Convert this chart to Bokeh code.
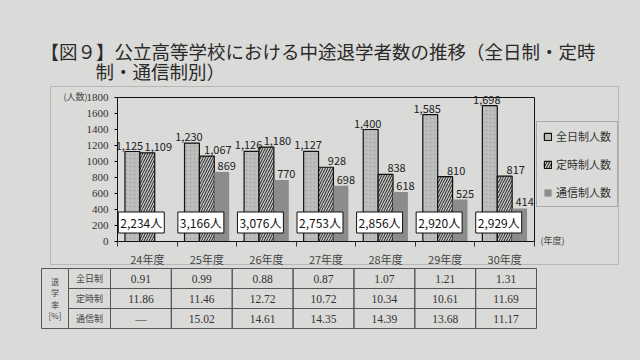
import numpy as np
from bokeh.plotting import figure
from bokeh.models import (Range1d, FixedTicker, Label, LabelSet, ColumnDataSource,
                          Legend, LegendItem, BoxAnnotation, LinearAxis)
from bokeh.embed import file_html
from bokeh.resources import INLINE
from bokeh.core.properties import value

# ---------------- data ----------------
years = ["24年度", "25年度", "26年度", "27年度", "28年度", "29年度", "30年度"]
fulltime = [1125, 1230, 1126, 1127, 1400, 1585, 1698]
parttime = [1109, 1067, 1180, 928, 838, 810, 817]
corresp = [None, 869, 770, 698, 618, 525, 414]
totals = [2234, 3166, 3076, 2753, 2856, 2920, 2929]
series_names = ["全日制人数", "定時制人数", "通信制人数"]
y_ticks = [0, 200, 400, 600, 800, 1000, 1200, 1400, 1600, 1800]

rate_rows = ["全日制", "定時制", "通信制"]
rate_full = [0.91, 0.99, 0.88, 0.87, 1.07, 1.21, 1.31]
rate_part = [11.86, 11.46, 12.72, 10.72, 10.34, 10.61, 11.69]
rate_corr = [None, 15.02, 14.61, 14.35, 14.39, 13.68, 11.17]

title1 = "【図９】公立高等学校における中途退学者数の推移（全日制・定時"
title2 = "制・通信制別）"

BG = "#dadad8"
FONT = "Noto Sans CJK JP"
SERIF = "Liberation Serif"

# ---------------- layout geometry (pixels inside the 624x344 canvas) ----------------
W, H = 624, 344
PL, PR = 109, 526          # plot-area left / right (px from left)
PT, PB = 89, 233           # plot-area top / bottom (px from top)
n = len(years)
ymax = y_ticks[-1]
ux = (PR - PL) / n                      # px per category
uy = ymax / (PB - PT)                   # data per px
x_start = -0.5 - PL / ux
x_end = n - 0.5 + (W - PR) / ux
y_start = -(H - PB) * uy
y_end = ymax + PT * uy

# table geometry
TL, TD, TR = 33, 102, 528    # table left, data-start, right (px)
TT, TB = 260, 320            # table top / bottom (px from top)
colw = (TR - TD) / n
rowh = (TB - TT) / 3
tx_start = -TD / colw
tx_end = n + (W - TR) / colw
ty_start = -(H - TB) / rowh
ty_end = 3 + TT / rowh

p = figure(width=W, height=H, output_backend="svg", toolbar_location=None,
           x_range=Range1d(x_start, x_end), y_range=Range1d(y_start, y_end),
           x_axis_location=None, y_axis_location=None, min_border=0,
           background_fill_color=BG, border_fill_color=BG, outline_line_color=None)
p.extra_x_ranges = {"tx": Range1d(tx_start, tx_end)}
p.extra_y_ranges = {"ty": Range1d(ty_start, ty_end)}
p.xgrid.visible = False
p.ygrid.visible = False

# chart-area border (outer box)
p.add_layout(BoxAnnotation(left=42, right=610, top=H - 78, bottom=H - 256,
                           left_units="screen", right_units="screen",
                           top_units="screen", bottom_units="screen",
                           fill_color=None, line_color="#666", line_width=1))

# plot-area outline
p.quad(left=[-0.5], right=[n - 0.5], bottom=[0], top=[ymax], fill_color=None,
       line_color="#111", line_width=1)

idx = np.arange(n)
corr_vals = [np.nan if v is None else v for v in corresp]

r1 = p.vbar(x=idx - 0.25, top=fulltime, width=0.25, fill_color="#bebebc",
            line_color="#111", line_width=1.2, hatch_pattern="dot",
            hatch_color="#8a8a8a", hatch_scale=4, hatch_alpha=0.45)
r2 = p.vbar(x=idx, top=parttime, width=0.25, fill_color="#c4c4c2",
            line_color="#111", line_width=1.2, hatch_pattern="/",
            hatch_color="#222", hatch_scale=5, hatch_weight=1)
r3 = p.vbar(x=idx + 0.25, top=corr_vals, width=0.25, fill_color="#8c8c8c",
            line_color=None)

def fmt(v):
    return f"{v:,}"

lab_specs = [(idx - 0.25, fulltime, -3), (idx, parttime, 11), (idx + 0.25, corresp, 5)]
for xs, vals, xo in lab_specs:
    xx = [float(x) for x, v in zip(xs, vals) if v is not None]
    yy = [v for v in vals if v is not None]
    tt = [fmt(v) for v in vals if v is not None]
    src = ColumnDataSource(dict(x=xx, y=yy, t=tt))
    p.add_layout(LabelSet(x="x", y="y", text="t", source=src, x_offset=xo, y_offset=2,
                          text_align="center", text_baseline="bottom",
                          text_font=value(FONT), text_font_size="11px",
                          text_color="#222"))

for i, tot in enumerate(totals):
    p.add_layout(Label(x=float(idx[i]), y=0, y_offset=19, x_offset=-6,
                       text=f"{tot:,}人", text_align="center", text_baseline="middle",
                       text_font=FONT, text_font_size="12px", text_color="#111",
                       background_fill_color="white", border_line_color="#111",
                       border_line_width=1, padding=2))

# axes pinned to the plot area
yax = LinearAxis(fixed_location=-0.5, bounds=(0, ymax), ticker=FixedTicker(ticks=y_ticks))
yax.major_tick_out = 3
yax.major_tick_in = 0
yax.minor_tick_line_color = None
yax.axis_line_color = "#111"
yax.major_label_text_font = SERIF
yax.major_label_text_font_size = "11px"
yax.major_label_text_color = "#333"
yax.major_label_standoff = 6
p.add_layout(yax, "left")

xax = LinearAxis(fixed_location=0, bounds=(-0.5, n - 0.5),
                 ticker=FixedTicker(ticks=list(range(n)),
                                    minor_ticks=[i - 0.5 for i in range(n + 1)]))
xax.major_label_overrides = {i: y for i, y in enumerate(years)}
xax.major_tick_line_color = None
xax.minor_tick_out = 5
xax.minor_tick_in = 0
xax.minor_tick_line_color = "#333"
xax.axis_line_color = "#111"
xax.major_label_text_font = FONT
xax.major_label_text_font_size = "11px"
xax.major_label_text_color = "#444"
xax.major_label_standoff = 3
p.add_layout(xax, "below")

# legend
legend = Legend(items=[LegendItem(label=series_names[0], renderers=[r1]),
                       LegendItem(label=series_names[1], renderers=[r2]),
                       LegendItem(label=series_names[2], renderers=[r3])],
                location=(528, H - 199), orientation="vertical")
legend.label_text_font = FONT
legend.label_text_font_size = "11px"
legend.label_text_color = "#333"
legend.glyph_width = 9
legend.glyph_height = 9
legend.label_height = 14
legend.label_standoff = 4
legend.padding = 6
legend.spacing = 12
legend.margin = 0
legend.border_line_color = "#777"
legend.background_fill_color = BG
legend.background_fill_alpha = 1
p.add_layout(legend)

# texts
p.add_layout(Label(x=32, y=H - 42, x_units="screen", y_units="screen", text=title1,
                   text_font=FONT, text_font_size="18.5px", text_color="#2a2a2a",
                   text_baseline="middle"))
p.add_layout(Label(x=87, y=H - 62, x_units="screen", y_units="screen", text=title2,
                   text_font=FONT, text_font_size="18.5px", text_color="#2a2a2a",
                   text_baseline="middle"))
p.add_layout(Label(x=55, y=H - 88, x_units="screen", y_units="screen", text="(人数)",
                   text_font=FONT, text_font_size="9px", text_color="#444",
                   text_baseline="middle"))
p.add_layout(Label(x=532, y=H - 232, x_units="screen", y_units="screen", text="(年度)",
                   text_font=FONT, text_font_size="9px", text_color="#444",
                   text_baseline="middle"))

# ---------------- table ----------------
x0 = -(TD - TL) / colw
x1 = x0 + 27 / colw
rows = [rate_full, rate_part, rate_corr]
L, R, T, B, X, Y, S = [], [], [], [], [], [], []
for r, row in enumerate(rows):
    for c, v in enumerate(row):
        L.append(c); R.append(c + 1); T.append(3 - r); B.append(2 - r)
        X.append(c + 0.5); Y.append(2.5 - r)
        S.append("—" if v is None else f"{v:.2f}")
TK = dict(x_range_name="tx", y_range_name="ty")
p.quad(left=L, right=R, top=T, bottom=B, fill_color=None, line_color="#555",
       line_width=1, **TK)
p.text(x=X, y=Y, text=S, text_align="center", text_baseline="middle",
       text_font=value(SERIF), text_font_size="11.5px", text_color="#333", **TK)

p.quad(left=[x1] * 3, right=[0] * 3, top=[3, 2, 1], bottom=[2, 1, 0],
       fill_color=None, line_color="#555", line_width=1, **TK)
p.text(x=[x1 / 2] * 3, y=[2.5, 1.5, 0.5], text=rate_rows, text_align="center",
       text_baseline="middle", text_font=value(FONT), text_font_size="9px",
       text_color="#444", **TK)
p.quad(left=[x0], right=[x1], top=[3], bottom=[0], fill_color=None,
       line_color="#555", line_width=1, **TK)
p.text(x=[(x0 + x1) / 2], y=[1.5], text=["退\n学\n率\n[%]"], text_align="center",
       text_baseline="middle", text_font=value(FONT), text_font_size="8px",
       text_color="#444", text_line_height=1.05, **TK)

html = file_html(p, INLINE)
style = ("<style>html, body { margin: 0 !important; padding: 0 !important; "
         f"background: {BG} !important; }} body {{ padding: 8px !important; "
         "box-sizing: border-box; overflow: hidden; }</style>")
html = html.replace("</head>", style + "</head>", 1)
open("out.html", "w").write(html)
